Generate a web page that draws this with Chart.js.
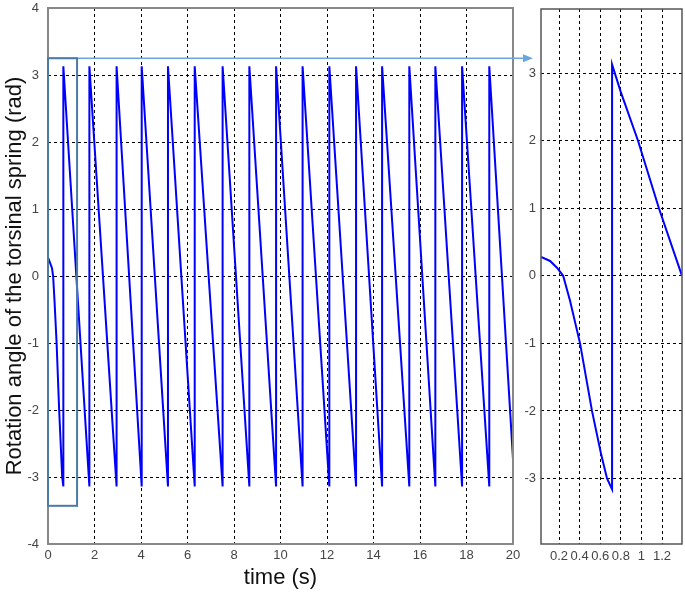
<!DOCTYPE html>
<html>
<head>
<meta charset="utf-8">
<script src="https://cdn.jsdelivr.net/npm/chart.js@4.4.1/dist/chart.umd.min.js"></script>
<style>
  body { margin: 0; background: #fff; }
  #wrap { position: relative; width: 685px; height: 593px; }
  #main { position: absolute; left: 0; top: 0; }
  #zoom { position: absolute; left: 500px; top: 0; }
</style>
</head>
<body>
<div id="wrap">
  <canvas id="main" width="540" height="593"></canvas>
  <canvas id="zoom" width="185" height="593"></canvas>
</div>
<script>
// tick labels
const timeTicks = [0, 2, 4, 6, 8, 10, 12, 14, 16, 18, 20];
const angleTicks = [-4, -3, -2, -1, 0, 1, 2, 3, 4];
const zoomTimeTicks = [0.2, 0.4, 0.6, 0.8, 1, 1.2];
const zoomAngleTicks = [-3, -2, -1, 0, 1, 2, 3];

// full run, 0..20 s
const mainTime = [
  0, 0.17, 0.22, 0.28, 0.37, 0.48, 0.61, 0.66,
  0.66, 1.78, 1.78, 2.95, 2.95, 4.03, 4.03, 5.16, 5.16, 6.31, 6.31, 7.51,
  7.51, 8.66, 8.66, 9.81, 9.81, 10.95, 10.95, 12.10, 12.10, 13.25, 13.25, 14.37,
  14.37, 15.54, 15.54, 16.66, 16.66, 17.81, 17.81, 18.98, 18.98, 20
];
const mainAngle = [
  0.28, 0.12, 0, -0.37, -1, -2, -3, -3.14,
  3.13, -3.14, 3.13, -3.14, 3.13, -3.14, 3.13, -3.14, 3.13, -3.14, 3.13, -3.14,
  3.13, -3.14, 3.13, -3.14, 3.13, -3.14, 3.13, -3.14, 3.13, -3.14, 3.13, -3.14,
  3.13, -3.14, 3.13, -3.14, 3.13, -3.14, 3.13, -3.14, 3.13, -2.73
];

// close-up of the first 1.4 s
const zoomTime = [0.025, 0.113, 0.18, 0.24, 0.307, 0.404, 0.52, 0.61, 0.666, 0.715, 0.715, 0.8, 0.967, 1.17, 1.394];
const zoomAngle = [0.28, 0.22, 0.12, 0, -0.37, -1, -2, -2.65, -3, -3.16, 3.13, 2.72, 2, 1, 0];

const tickFont = { family: 'Liberation Sans, Arial, sans-serif', size: 13 };
const titleFont = { family: 'Liberation Sans, Arial, sans-serif', size: 22 };

function pts(xs, ys) {
  return xs.map((x, i) => ({ x: x, y: ys[i] }));
}

function fixedTicks(list) {
  return function (scale) {
    scale.ticks = list.map(v => ({ value: v }));
  };
}

// y axis: fixed width, no extra room for the end labels
function fitY(w) {
  return function (s) {
    s.width = w;
    s.paddingTop = 0;
    s.paddingBottom = 0;
  };
}

// box around the plot area
const framePlugin = {
  id: 'frame',
  afterDraw(chart, args, opts) {
    const a = chart.chartArea;
    const c = chart.ctx;
    c.save();
    c.strokeStyle = opts.color;
    c.lineWidth = opts.width;
    c.strokeRect(a.left, a.top, a.right - a.left, a.bottom - a.top);
    c.restore();
  }
};

// zoom box and arrow on the main plot
const markPlugin = {
  id: 'mark',
  afterDraw(chart) {
    const x = chart.scales.x, y = chart.scales.y;
    const c = chart.ctx;
    const x0 = x.getPixelForValue(0), x1 = x.getPixelForValue(1.25);
    const yTop = y.getPixelForValue(3.25), yBot = y.getPixelForValue(-3.43);
    c.save();
    c.strokeStyle = '#6aa6de';
    c.lineWidth = 1.5;
    c.beginPath();
    c.moveTo(x0, yTop);
    c.lineTo(524, yTop);
    c.stroke();
    c.fillStyle = '#6aa6de';
    c.beginPath();
    c.moveTo(533, yTop);
    c.lineTo(523, yTop - 4);
    c.lineTo(523, yTop + 4);
    c.closePath();
    c.fill();
    c.strokeStyle = '#4a7aa6';
    c.lineWidth = 2;
    c.strokeRect(x0, yTop, x1 - x0, yBot - yTop);
    c.restore();
  }
};

new Chart(document.getElementById('main'), {
  type: 'line',
  data: {
    datasets: [{
      data: pts(mainTime, mainAngle),
      borderColor: '#0000ff',
      borderWidth: 2,
      pointRadius: 0,
      tension: 0
    }]
  },
  options: {
    responsive: false,
    animation: false,
    devicePixelRatio: 1,
    layout: { padding: { left: 0, right: 27, top: 8, bottom: 0 } },
    plugins: {
      legend: { display: false },
      tooltip: { enabled: false },
      frame: { color: '#888', width: 2 }
    },
    scales: {
      x: {
        type: 'linear', min: 0, max: 20,
        afterBuildTicks: fixedTicks(timeTicks),
        afterFit(s) { s.height = 49; },
        ticks: { font: tickFont, color: '#444', padding: 4, maxRotation: 0, autoSkip: false },
        grid: { color: '#000', lineWidth: 1, drawTicks: false },
        border: { display: false, dash: [3, 3] },
        title: { display: true, text: 'time (s)', font: titleFont, color: '#111', padding: { top: 2, bottom: 2 } }
      },
      y: {
        type: 'linear', min: -4, max: 4,
        afterBuildTicks: fixedTicks(angleTicks),
        afterFit: fitY(48),
        ticks: { font: tickFont, color: '#444', padding: 9 },
        grid: { color: '#000', lineWidth: 1, drawTicks: false },
        border: { display: false, dash: [3, 3] },
        title: { display: true, text: 'Rotation angle of the torsinal spring (rad)', font: titleFont, color: '#111', padding: { top: 2, bottom: 0 } }
      }
    }
  },
  plugins: [framePlugin, markPlugin]
});

new Chart(document.getElementById('zoom'), {
  type: 'line',
  data: {
    datasets: [{
      data: pts(zoomTime, zoomAngle),
      borderColor: '#0000ff',
      borderWidth: 2,
      pointRadius: 0,
      tension: 0
    }]
  },
  options: {
    responsive: false,
    animation: false,
    devicePixelRatio: 1,
    layout: { padding: { left: 0, right: 3, top: 9, bottom: 0 } },
    plugins: {
      legend: { display: false },
      tooltip: { enabled: false },
      frame: { color: '#555', width: 1.5 }
    },
    scales: {
      x: {
        type: 'linear', min: 0.025, max: 1.394,
        afterBuildTicks: fixedTicks(zoomTimeTicks),
        afterFit(s) { s.height = 49; },
        ticks: { font: tickFont, color: '#444', padding: 5, maxRotation: 0, minRotation: 0, autoSkip: false,
                 callback: v => String(v) },
        grid: { color: '#000', lineWidth: 1, drawTicks: false },
        border: { display: false, dash: [3, 3] }
      },
      y: {
        type: 'linear', min: -3.97, max: 3.95,
        afterBuildTicks: fixedTicks(zoomAngleTicks),
        afterFit: fitY(41),
        ticks: { font: tickFont, color: '#444', padding: 5 },
        grid: { color: '#000', lineWidth: 1, drawTicks: false },
        border: { display: false, dash: [3, 3] }
      }
    }
  },
  plugins: [framePlugin]
});
</script>
</body>
</html>
